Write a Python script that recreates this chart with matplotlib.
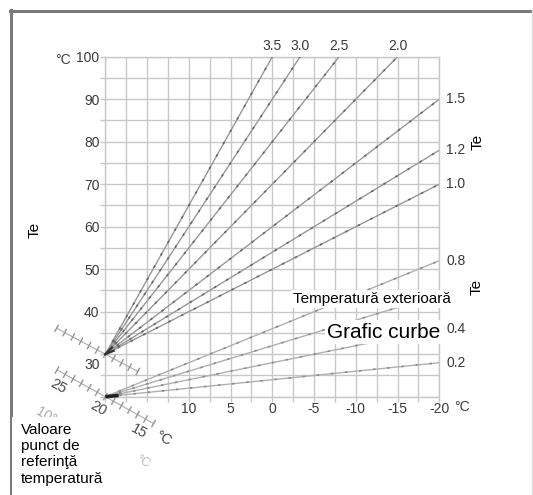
import matplotlib
matplotlib.use("Agg")
import matplotlib.pyplot as plt
import matplotlib.transforms as mtransforms
from matplotlib.lines import Line2D
from matplotlib.patches import Rectangle
import numpy as np

plt.rcParams['font.family'] = ['Liberation Sans Narrow', 'Liberation Sans', 'DejaVu Sans']
SANS = ['Liberation Sans', 'DejaVu Sans']

# Heating curves: outdoor temperature (°C) -> flow temperature (°C)
curve_names = ["3.5", "3.0", "2.5", "2.0", "1.5", "1.2", "1.0", "0.8", "0.6", "0.4", "0.2"]
start_te    = [20, 20, 20, 20, 20, 20, 20, 20, 20, 20, 20]
start_flow  = [30, 30, 30, 30, 30, 30, 30, 20, 20, 20, 20]
end_te      = [0, -3.33, -8, -15, -20, -20, -20, -20, -20, -20, -20]
end_flow    = [100, 100, 100, 100, 90, 78, 70, 52, 44, 36, 28]
top_labels   = ["3.5", "3.0", "2.5", "2.0"]
right_labels = ["1.5", "1.2", "1.0", "0.8", "0.4", "0.2"]

x_ticks = [10, 5, 0, -5, -10, -15, -20]
x_tick_labels = ["10", "5", "0", "-5", "-10", "-15", "-20"]
y_ticks = [30, 40, 50, 60, 70, 80, 90, 100]
y_tick_labels = ["30", "40", "50", "60", "70", "80", "90", "100"]

# room set-point scales (°C)
setpoint_ticks_low = [26, 25, 24, 23, 22, 21, 20, 19, 18, 17, 16, 15, 14]
setpoint_ticks_high = [26, 25, 24, 23, 22, 21, 20, 19, 18, 17, 16]
setpoint_labels = [25, 20, 15]

TXT = '#3a3a3a'
LBL = 10
W, H = 533, 495
fig = plt.figure(figsize=(W / 100, H / 100), dpi=100)
fig.patch.set_facecolor('white')
ax = fig.add_axes([105.3 / W, 1 - 396.7 / H, (439.3 - 105.3) / W, (396.7 - 56.7) / H])
ax.set_xlim(20, -20)
ax.set_ylim(20, 100)

grid_c = '#c8c8c8'
ax.set_xticks(np.arange(20, -20.1, -2.5), minor=True)
ax.set_yticks(np.arange(20, 100.1, 5), minor=True)
ax.set_xticks(x_ticks)
ax.set_xticklabels(x_tick_labels)
ax.set_yticks(y_ticks)
ax.set_yticklabels(y_tick_labels)
ax.grid(which='both', color=grid_c, lw=1.0)
ax.set_axisbelow(True)
for sp in ax.spines.values():
    sp.set_color(grid_c)
    sp.set_linewidth(1.0)
ax.tick_params(which='both', color=grid_c, length=3.5, width=1.0)
ax.tick_params(axis='both', which='major', pad=0.6)
ax.tick_params(labelsize=LBL, labelcolor=TXT)

# the 30 label sits a bit lower, clear of the set-point scale
for lbl in ax.get_yticklabels():
    if lbl.get_text() == "30":
        lbl.set_transform(lbl.get_transform() +
                          mtransforms.ScaledTranslation(0, -9 / 100, fig.dpi_scale_trans))

# curves
for i, name in enumerate(curve_names):
    xs = [start_te[i], end_te[i]]
    ys = [start_flow[i], end_flow[i]]
    high = start_flow[i] > 25
    ax.plot(xs, ys, color='#979797' if high else '#b0b0b0', lw=1.0,
            solid_capstyle='butt', zorder=3)
    ax.plot(xs, ys, color='#666666' if high else '#8c8c8c', lw=1.2,
            dashes=(1.5, 7), zorder=3)
    if name in top_labels:
        ax.annotate(name, (end_te[i], end_flow[i]), xytext=(0, 2.5),
                    textcoords='offset points', ha='center', va='bottom',
                    fontsize=LBL, color=TXT, annotation_clip=False)
    elif name in right_labels:
        ax.annotate(name, (end_te[i], end_flow[i]), xytext=(5.0, 0),
                    textcoords='offset points', ha='left', va='center',
                    fontsize=LBL, color=TXT, annotation_clip=False)

# pivot marks at the curve origins
ax.plot([20, 18.4], [20, 20.3], color='#222222', lw=2.6, solid_capstyle='butt',
        zorder=4, clip_on=False)
ax.plot([20, 19.2], [30, 31.6], color='#333333', lw=1.6, zorder=4, clip_on=False)
ax.plot([20, 19.0], [30, 30.8], color='#333333', lw=1.6, zorder=4, clip_on=False)

fig.canvas.draw()
ident = mtransforms.IdentityTransform()


def setpoint_scale(origin, angle_deg, px_per_deg, ticks, labelled):
    ox, oy = ax.transData.transform(origin)
    a = np.deg2rad(angle_deg)
    u = np.array([np.cos(a), np.sin(a)])
    n = np.array([np.sin(a), -np.cos(a)])  # points below-left of the line
    pos = lambda v, off: np.array([ox, oy]) + (20 - v) * px_per_deg * u + off * n
    p0, p1 = pos(ticks[0], 0), pos(ticks[-1], 0)
    ax.add_line(Line2D([p0[0], p1[0]], [p0[1], p1[1]], transform=ident,
                       color='#b4b4b4', lw=0.9, clip_on=False, zorder=2))
    for v in ticks:
        a0, a1 = pos(v, -3.5), pos(v, 3.5)
        ax.add_line(Line2D([a0[0], a1[0]], [a0[1], a1[1]], transform=ident,
                           color='#959595', lw=1.0, clip_on=False, zorder=2))
    if labelled:
        for v in setpoint_labels:
            p = pos(v, 14)
            ax.text(p[0], p[1], str(v), transform=ident, rotation=angle_deg,
                    ha='center', va='center', fontsize=10.5, color='#4a4a4a')
        p = pos(12.3, 8)
        ax.text(p[0], p[1], "°C", transform=ident, rotation=angle_deg,
                ha='center', va='center', fontsize=10.5, color='#4a4a4a')


setpoint_scale((20, 20), -29, 9.2, setpoint_ticks_low, True)
setpoint_scale((20, 30), -28, 9.2, setpoint_ticks_high, False)

# axis unit marks
fig.text(63 / W, 1 - 60 / H, "°C", ha='center', va='center', fontsize=LBL, color=TXT)
fig.text(462 / W, 1 - 407 / H, "°C", ha='center', va='center', fontsize=LBL, color=TXT)
fig.text(50 / W, 1 - 418 / H, "10°C", ha='center', va='center', fontsize=10,
         color='#aaaaaa', rotation=-30)
fig.text(143 / W, 1 - 462 / H, "°C", ha='center', va='center', fontsize=9,
         color='#b8b8b8', rotation=-30)

# white panel behind the caption
fig.patches.append(Rectangle((12 / W, 0), (112 - 12) / W, (495 - 417) / H,
                             transform=fig.transFigure, facecolor='white',
                             edgecolor='none', zorder=5))

# captions
fig.text(35 / W, 1 - 230 / H, "Te", rotation=90, ha='center', va='center',
         fontsize=11, family=SANS, color='black', zorder=6)
fig.text(478 / W, 1 - 142 / H, "Te", rotation=90, ha='center', va='center',
         fontsize=11, family=SANS, color='black', zorder=6)
fig.text(477 / W, 1 - 287 / H, "Te", rotation=90, ha='center', va='center',
         fontsize=11, family=SANS, color='black', zorder=6)
fig.text(293 / W, 1 - 299 / H, "Temperatură exterioară", ha='left', va='center',
         fontsize=11, family=SANS, color='black', zorder=6,
         bbox=dict(facecolor='white', edgecolor='none', pad=1.5))
fig.text(327 / W, 1 - 332 / H, "Grafic curbe", ha='left', va='center',
         fontsize=15, family=SANS, color='black', zorder=6,
         bbox=dict(facecolor='white', edgecolor='none', pad=1.5))
fig.text(21 / W, 1 - 423 / H, "Valoare\npunct de\nreferinţă\ntemperatură",
         ha='left', va='top', fontsize=11, family=SANS, color='black',
         linespacing=1.2, zorder=6)

# outer frame
fig.add_artist(Line2D([11 / W, 11 / W], [0, 1 - 10 / H], color='#7a7a7a', lw=2.2,
                      transform=fig.transFigure))
fig.add_artist(Line2D([10 / W, 532 / W], [1 - 11 / H, 1 - 11 / H], color='#7a7a7a',
                      lw=2.2, transform=fig.transFigure))
fig.add_artist(Line2D([531.5 / W, 531.5 / W], [0, 1 - 10 / H], color='#dddddd', lw=1.0,
                      transform=fig.transFigure))

fig.savefig("out.png", dpi=100, facecolor='white')
